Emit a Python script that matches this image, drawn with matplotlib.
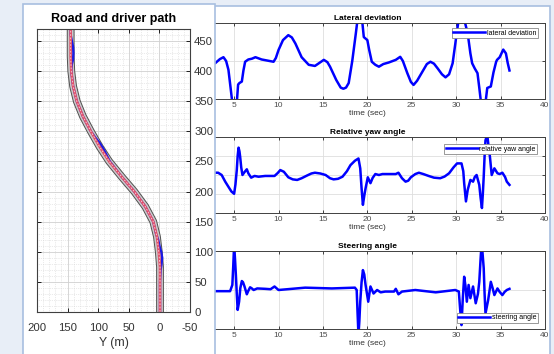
import matplotlib
matplotlib.use("Agg")
import matplotlib.pyplot as plt
from matplotlib.patches import Rectangle
from matplotlib.ticker import MultipleLocator

plt.rcParams['font.family'] = ['Liberation Sans', 'DejaVu Sans']
plt.rcParams['axes.unicode_minus'] = False

# road centre line: X = distance along road, Y = lateral position (m)
road_x = [-5, 0, 25, 50, 75, 100, 125, 150, 175, 200, 225, 250, 275, 300, 325, 350, 375, 400, 425, 450, 480]
road_y = [-1, -1, -1, -1, -1, 1, 4, 10, 23, 41, 62, 82, 98, 112, 125, 135, 141, 144, 145, 145, 145]

drv_x = [0, 25, 50, 70, 80, 90, 100, 110, 120, 130, 150, 175, 200, 225, 250, 260, 270, 280, 290, 300, 325, 350, 375, 400, 412, 420, 430, 440, 450, 460, 470]
drv_y = [-1, -1, -1, -2, -3.5, -4.5, -3, 0, 2, 5.5, 10, 23, 41, 62, 81, 86, 91, 97, 105, 112, 125, 135, 141, 144, 143, 141, 140.5, 141, 143, 145, 145]

# lateral deviation
lat_t = [0, 1, 2, 2.86, 3.4, 3.8, 4.1, 4.36, 4.6, 4.8, 5.3, 5.45, 5.6, 5.87, 6.05, 6.24, 6.6, 7.0, 7.4,
         8.1, 9.44, 9.7, 10.0, 10.5, 11.1, 11.5, 11.9, 12.6, 13.4, 14.1, 14.6, 15.1, 15.5, 15.8, 16.5,
         17.0, 17.3, 17.6, 17.9, 18.3, 18.7, 18.9, 19.4, 19.6, 20.0, 20.2, 20.5, 20.9, 21.3, 21.8, 22.4,
         23.2, 23.7, 24.0, 24.5, 24.9, 25.2, 25.6, 26.2, 26.7, 27.1, 27.5, 27.9, 28.4, 28.8, 29.2, 29.6,
         29.9, 30.1, 30.3, 30.9, 31.3, 31.6, 31.8, 32.1, 32.4, 32.6, 32.8, 33.3, 33.5, 33.9, 34.2, 34.5,
         34.6, 34.9, 35.3, 35.6, 35.8, 36.0]
lat_v = [0.1, 0.15, 0.0, -0.06, 0.05, 0.1, 0.0, -0.23, -0.7, -1.1, -1.1, -0.62, -0.58, -0.54, -0.25, -0.02, 0.04, 0.06, 0.1,
         0.04, -0.02, 0.08, 0.29, 0.55, 0.68, 0.62, 0.46, 0.1, -0.1, -0.13, -0.05, 0.03, -0.03, -0.15, -0.5,
         -0.7, -0.73, -0.7, -0.58, 0.0, 0.72, 1.1, 1.1, 0.63, 0.55, 0.3, -0.02, -0.1, -0.15, -0.08, -0.04,
         0.03, 0.11, 0.0, -0.32, -0.55, -0.63, -0.52, -0.28, -0.08, -0.02, -0.07, -0.19, -0.35, -0.43, -0.35, -0.06,
         0.45, 0.81, 1.1, 1.1, 0.72, 0.2, -0.06, -0.2, -0.32, -0.7, -1.1, -1.1, -0.71, -0.67, -0.3, -0.02,
         0.03, 0.1, 0.3, 0.2, -0.05, -0.25]

# relative yaw angle
yaw_t = [0, 1, 2, 2.86, 3.2, 3.6, 4.0, 4.4, 4.7, 5.0, 5.15, 5.3, 5.4, 5.5, 5.6, 5.68, 5.8, 5.94, 6.2, 6.43,
         6.6, 6.92, 7.3, 7.75, 8.5, 9.55, 9.9, 10.2, 10.6, 11.1, 11.6, 12.1, 12.6, 13.2, 13.7, 14.1, 14.7,
         15.3, 15.8, 16.2, 16.7, 17.2, 17.7, 18.1, 18.6, 19.0, 19.2, 19.35, 19.5, 19.65, 19.8, 20.05, 20.35,
         20.6, 20.9, 21.3, 21.7, 23.2, 23.5, 23.9, 24.3, 24.6, 24.9, 25.4, 25.8, 26.3, 26.9, 27.5, 28.2,
         28.7, 29.2, 29.7, 30.1, 30.6, 30.8, 30.9, 31.1, 31.3, 31.6, 31.9, 32.1, 32.3, 32.6, 32.75, 32.9,
         33.0, 33.1, 33.2, 33.3, 33.5, 33.65, 33.8, 34.0, 34.3, 34.65, 34.9, 35.2, 35.5, 35.7, 36.0]
yaw_v = [0.1, 0.12, 0.12, 0.12, 0.12, 0.0, -0.35, -0.65, -0.87, -0.99, -0.5, 0.26, 1.0, 1.44, 1.25, 0.96, 0.4, 0.0, 0.17, 0.3,
         0.09, -0.14, -0.05, -0.09, -0.05, -0.05, 0.1, 0.26, 0.17, -0.12, -0.23, -0.26, -0.17, -0.03, 0.08, 0.12, 0.08,
         0.0, -0.17, -0.23, -0.2, -0.09, 0.2, 0.52, 0.75, 0.87, 0.35, -0.7, -1.57, -1.1, -0.7, -0.12, -0.43,
         -0.15, 0.05, 0.0, 0.05, 0.05, 0.12, -0.17, -0.35, -0.3, -0.12, 0.05, 0.12, 0.05, -0.05, -0.14, -0.17,
         -0.08, 0.09, 0.4, 0.61, 0.61, 0.2, -0.43, -1.39, -0.78, -0.26, -0.35, -0.1, 0.0, -0.52, -1.2, -1.74,
         -1.0, -0.09, 1.0, 1.83, 2.1, 1.5, 0.96, 0.0, 0.35, 0.09, 0.05, 0.12, -0.1, -0.35, -0.52]

# steering angle
str_t = [0, 2.86, 4.55, 4.8, 4.9, 5.0, 5.1, 5.2, 5.3, 5.4, 5.56, 5.7, 5.87, 6.0, 6.17, 6.43, 6.6, 6.8, 7.0,
         7.2, 7.6, 8.5, 9.1, 9.55, 10.0, 10.5, 11.5, 13.0, 16.0, 18.6, 18.8, 18.9, 19.0, 19.1, 19.2, 19.35,
         19.5, 19.65, 19.8, 20.1, 20.35, 20.7, 21.1, 21.5, 22.0, 23.0, 23.2, 23.5, 23.9, 25.4, 27.7, 29.9,
         30.3, 30.45, 30.6, 30.75, 30.9, 31.05, 31.2, 31.4, 31.6, 31.9, 32.2, 32.45, 32.6, 32.75, 32.85,
         32.95, 33.1, 33.2, 33.3, 33.6, 33.9, 34.1, 34.3, 34.65, 34.9, 35.2, 35.45, 35.7, 36.0]
str_v = [-0.03, -0.03, -0.03, 0.13, 0.6, 1.15, 0.8, 0.38, -0.1, -0.51, -0.3, 0.05, 0.23, 0.2, 0.09, -0.11, -0.02, 0.07, 0.04,
         0.0, 0.04, 0.03, 0.02, 0.09, 0.0, 0.01, 0.03, 0.06, 0.04, 0.06, 0.0, -0.6, -1.15, -0.8, -0.3, 0.2,
         0.51, 0.4, 0.13, -0.3, 0.09, -0.09, 0.0, -0.06, -0.04, -0.04, 0.03, -0.11, -0.04, 0.0, -0.06, 0.0,
         -0.04, -0.5, -0.9, -0.2, 0.34, 0.1, -0.3, 0.13, -0.21, 0.09, -0.34, -0.1, 0.21, 0.8, 1.15,
         1.0, 0.56, -0.1, -0.6, -0.26, 0.21, 0.05, -0.13, 0.04, -0.05, -0.13, -0.05, 0.0, 0.03]

W, H = 554, 354
fig = plt.figure(figsize=(W / 100, H / 100), dpi=100, facecolor='#e8eef7')

def px(x0, y0, x1, y1):
    # pixel box (top-left origin) -> figure fraction
    return [x0 / W, 1 - y1 / H, (x1 - x0) / W, (y1 - y0) / H]

# panel backgrounds
fig.add_artist(Rectangle((150 / W, -0.05), (550 - 150) / W, 1 - 5.5 / H + 0.05, transform=fig.transFigure,
                         facecolor='white', edgecolor='#a8bfe0', lw=1.2, zorder=-3))
fig.add_artist(Rectangle((23 / W, -0.05), (215 - 23) / W, 1 - 3.5 / H + 0.05, transform=fig.transFigure,
                         facecolor='white', edgecolor='#a8bfe0', lw=1.2, zorder=2))

# ---- right side: time plots (left part sits behind the road panel)
boxes = [px(189.7, 23, 545, 99), px(189.7, 137, 545, 213), px(189.7, 251, 545, 329)]
series = [(lat_t, lat_v, 'Lateral deviation', 'lateral deviation', (-1, 1), 1, 'upper right', (0.98, 0.935)),
          (yaw_t, yaw_v, 'Relative yaw angle', 'relative yaw angle', (-2, 2), 1, 'upper right', (0.9775, 0.908)),
          (str_t, str_v, 'Steering angle', 'steering angle', (-1, 1), 1, 'lower right', (0.98, 0.077))]
for box, (t, v, ttl, lab, yl, ystep, loc, anchor) in zip(boxes, series):
    ax = fig.add_axes(box)
    ax.set_zorder(-1)
    ax.plot(t, v, color='#0000ff', lw=1.8, label=lab, solid_joinstyle='round')
    ax.set_xlim(0, 40)
    ax.set_ylim(*yl)
    ax.xaxis.set_major_locator(MultipleLocator(5))
    ax.yaxis.set_major_locator(MultipleLocator(ystep))
    ax.grid(True, color='#dedede', lw=0.6)
    ax.set_axisbelow(True)
    ax.tick_params(direction='in', length=2, width=0.5, top=True, right=True, labelsize=6,
                   labelcolor='#4d4d4d', pad=2.5, labelleft=False)
    for s in ax.spines.values():
        s.set_color('#404040')
        s.set_linewidth(0.7)
    ax.set_title(ttl, fontsize=6, fontweight='bold', pad=2.5)
    ax.set_xlabel('time (sec)', fontsize=6, labelpad=0.5, color='#333333')
    lg = ax.legend(loc=loc, bbox_to_anchor=anchor, borderaxespad=0, fontsize=5, handlelength=4.6,
                   handletextpad=0.2, borderpad=0.25, fancybox=False, framealpha=1)
    lg.get_frame().set_edgecolor('#888888')
    lg.get_frame().set_linewidth(0.6)
    lg.get_lines()[0].set_linewidth(1.8)

# ---- left side: road map
ax = fig.add_axes(px(37, 29, 190, 312))
ax.set_zorder(3)
ax.plot(road_y, road_x, color='#505050', lw=5.6, solid_capstyle='butt')
ax.plot(road_y, road_x, color='#cacaca', lw=4.2, solid_capstyle='butt')
ax.plot(drv_y, drv_x, color='#1a1ae6', lw=1.7)
ax.plot(road_y, road_x, color='#e2506a', lw=1.9, solid_capstyle='butt')
ax.plot(road_y, road_x, color='#f4d8dc', lw=0.6, ls=(0, (2, 2)))
ax.set_xlim(200, -50)
ax.set_ylim(0, 470)
ax.xaxis.set_major_locator(MultipleLocator(50))
ax.yaxis.set_major_locator(MultipleLocator(50))
ax.xaxis.set_minor_locator(MultipleLocator(10))
ax.yaxis.set_minor_locator(MultipleLocator(10))
ax.grid(True, which='major', color='#d0d0d0', lw=0.6)
ax.grid(True, which='minor', color='#d6d6d6', lw=0.5, ls=':')
ax.set_axisbelow(True)
ax.yaxis.tick_right()
ax.tick_params(which='major', direction='in', length=3, width=0.6, left=True, right=True, top=True,
               bottom=True, labelsize=8.2, labelcolor='#333333')
ax.tick_params(axis='x', which='major', pad=8)
ax.tick_params(axis='y', which='major', pad=3)
ax.tick_params(which='minor', length=0)
for s in ax.spines.values():
    s.set_color('#404040')
    s.set_linewidth(0.8)
ax.set_title('Road and driver path', fontsize=9, fontweight='bold', pad=5)
ax.set_xlabel('Y (m)', fontsize=8.8, labelpad=3, color='#333333')

fig.savefig('out.png', dpi=100, facecolor=fig.get_facecolor())
